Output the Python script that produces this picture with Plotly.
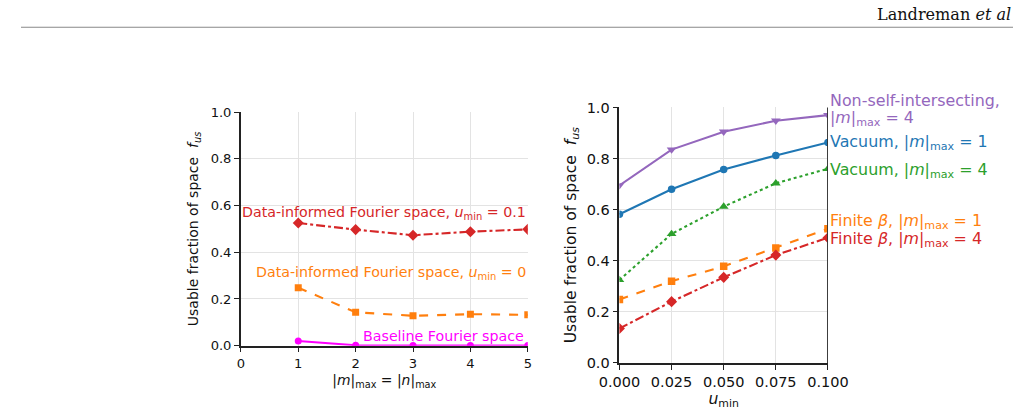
import plotly.graph_objects as go

# Left panel data
mmax = [1, 2, 3, 4, 5]
left_di_01 = [0.525, 0.497, 0.473, 0.488, 0.498]
left_di_0 = [0.248, 0.143, 0.128, 0.135, 0.132]
left_base = [0.020, 0.002, 0.001, 0.001, 0.001]

# Right panel data
umin = [0.0, 0.025, 0.05, 0.075, 0.1]
r_nsi4 = [0.695, 0.835, 0.905, 0.948, 0.970]
r_vac1 = [0.582, 0.680, 0.757, 0.812, 0.863]
r_vac4 = [0.325, 0.505, 0.612, 0.703, 0.760]
r_fb1 = [0.248, 0.320, 0.378, 0.450, 0.525]
r_fb4 = [0.135, 0.240, 0.335, 0.422, 0.490]

RED = "#d62728"; ORANGE = "#ff7f0e"; BLUE = "#1f77b4"; GREEN = "#2ca02c"
PURPLE = "#9467bd"; MAGENTA = "#ff00ff"
FONT = "DejaVu Sans"

W, H = 1034, 413
# empirical mapping from target picture pixels to figure pixels
S, OX, OY, M = 0.963, 11.6, 0.0, 8.0
def fxp(T): return (T - OX) / S - M
def fyp(T): return (T - OY) / S - M
def px(T): return min(max(fxp(T) / W, 0), 1)
def py(T): return min(max(1 - fyp(T) / H, 0), 1)
def fs(s): return s / S

fig = go.Figure()

def add(x, y, color, dash, symbol, xa, ya, size=7):
    fig.add_trace(go.Scatter(x=x, y=y, mode="lines+markers", xaxis=xa, yaxis=ya,
                             line=dict(color=color, width=2.1, dash=dash),
                             marker=dict(color=color, symbol=symbol, size=size),
                             showlegend=False))

add(mmax, left_di_01, RED, "dashdot", "diamond", "x", "y", 8.5)
add(mmax, left_di_0, ORANGE, "dash", "square", "x", "y", 7)
add(mmax, left_base, MAGENTA, "solid", "circle", "x", "y", 7)

add(umin, r_nsi4, PURPLE, "solid", "triangle-down", "x2", "y2", 8.5)
add(umin, r_vac1, BLUE, "solid", "circle", "x2", "y2", 7.5)
add(umin, r_vac4, GREEN, "dot", "triangle-up", "x2", "y2", 8.5)
add(umin, r_fb1, ORANGE, "dash", "square", "x2", "y2", 7.5)
add(umin, r_fb4, RED, "dashdot", "diamond", "x2", "y2", 8.5)

def axis(tsize):
    return dict(showgrid=True, gridcolor="#e3e3e3", gridwidth=1.2, zeroline=False,
                showline=True, linecolor="#222", linewidth=1.6, ticks="outside",
                ticklen=5, tickcolor="#222", tickwidth=1.1,
                tickfont=dict(family=FONT, size=fs(tsize), color="#111"))

YT = "Usable fraction of space\u00a0\u00a0<i>f</i><sub><i>us</i></sub>"

fig.update_layout(
    width=W, height=H, margin=dict(l=0, r=0, t=0, b=0),
    paper_bgcolor="white", plot_bgcolor="white",
    xaxis=dict(domain=[px(240), px(528)], range=[0, 5], dtick=1, anchor="y",
               title=dict(text="|<i>m</i>|<sub>max</sub> = |<i>n</i>|<sub>max</sub>",
                          font=dict(family=FONT, size=fs(13.4), color="#111"), standoff=5),
               **axis(12.6)),
    yaxis=dict(domain=[py(346), py(112)], range=[0, 1], dtick=0.2, tickformat=".1f", anchor="x",
               title=dict(text=YT, font=dict(family=FONT, size=fs(13.5), color="#111"), standoff=9),
               **axis(12.6)),
    xaxis2=dict(domain=[px(620), px(829.3)], range=[0, 0.1], dtick=0.025, tickformat=".3f", anchor="y2",
                title=dict(text="<i>u</i><sub>min</sub>",
                           font=dict(family=FONT, size=fs(15), color="#111"), standoff=3),
                **axis(14)),
    yaxis2=dict(domain=[py(363.3), py(107.3)], range=[0, 1], dtick=0.2, tickformat=".1f", anchor="x2",
                title=dict(text=YT, font=dict(family=FONT, size=fs(15), color="#111"), standoff=6),
                **axis(14)),
)

# right spine on right panel
fig.add_shape(type="line", xref="x2", yref="y2 domain", x0=0.1, x1=0.1, y0=0, y1=1,
              line=dict(color="#333", width=1.9))

# header
fig.add_annotation(text="Landreman <i>et al</i>", xref="paper", yref="paper",
                   x=1.0, y=1 - 7 / H, xanchor="right", yanchor="middle", showarrow=False,
                   font=dict(family="DejaVu Serif", size=fs(15.5), color="#111"))
fig.add_shape(type="line", xref="paper", yref="paper", x0=0, x1=1, y0=py(27), y1=py(27),
              line=dict(color="#888", width=1.2))

def lab(text, x, y, color, xref, yref, xanchor, size):
    fig.add_annotation(text=text, x=x, y=y, xref=xref, yref=yref, xanchor=xanchor, yanchor="middle",
                       showarrow=False, align="left",
                       font=dict(family=FONT, size=fs(size), color=color))

# left labels
lab("Data-informed Fourier space, <i>u</i><sub>min</sub> = 0.1", 5.0, 0.568, RED, "x", "y", "right", 13.7)
lab("Data-informed Fourier space, <i>u</i><sub>min</sub> = 0", 5.0, 0.312, ORANGE, "x", "y", "right", 13.7)
lab("Baseline Fourier space", 4.97, 0.043, MAGENTA, "x", "y", "right", 13.7)

# right labels
lab("Non-self-intersecting,", 0.1, py(100), PURPLE, "x2", "paper", "left", 15.3)
lab("|<i>m</i>|<sub>max</sub> = 4", 0.1, 0.955, PURPLE, "x2", "y2", "left", 15.3)
lab("Vacuum, |<i>m</i>|<sub>max</sub> = 1", 0.1, 0.862, BLUE, "x2", "y2", "left", 15.3)
lab("Vacuum, |<i>m</i>|<sub>max</sub> = 4", 0.1, 0.755, GREEN, "x2", "y2", "left", 15.3)
lab("Finite <i>β</i>, |<i>m</i>|<sub>max</sub> = 1", 0.1, 0.552, ORANGE, "x2", "y2", "left", 15.3)
lab("Finite <i>β</i>, |<i>m</i>|<sub>max</sub> = 4", 0.1, 0.482, RED, "x2", "y2", "left", 15.3)

fig.write_html("out.html")
